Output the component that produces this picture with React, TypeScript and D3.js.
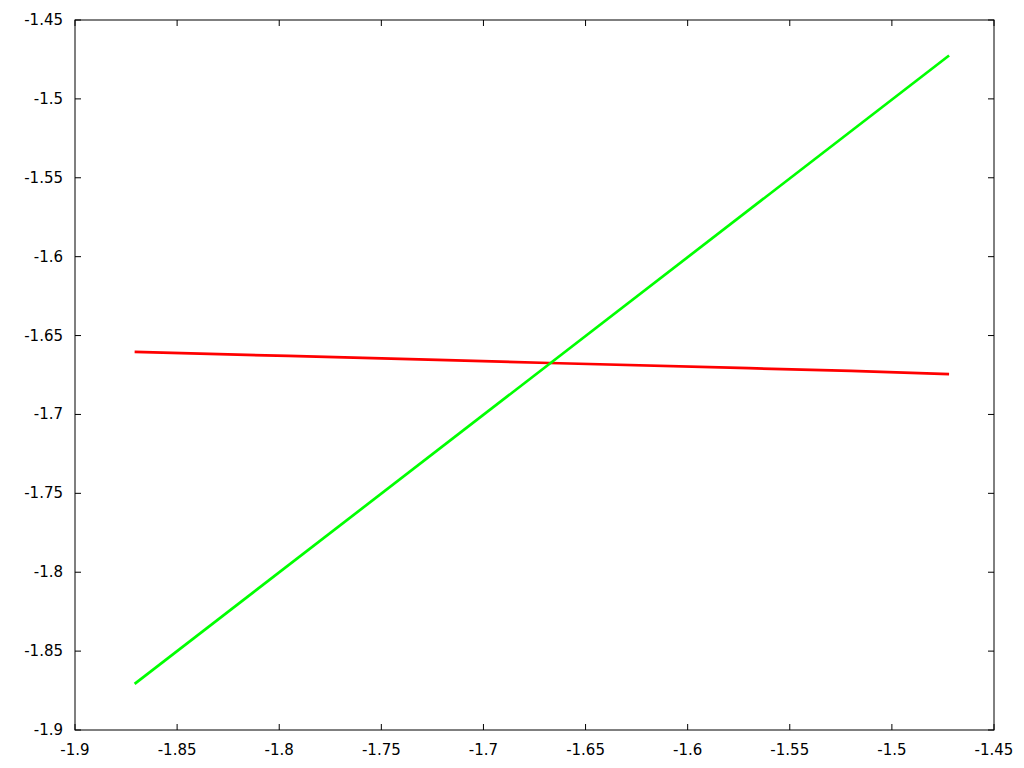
import React from 'react';
import * as d3 from 'd3';

// tick values
const xTicks = [-1.9, -1.85, -1.8, -1.75, -1.7, -1.65, -1.6, -1.55, -1.5, -1.45];
const yTicks = [-1.45, -1.5, -1.55, -1.6, -1.65, -1.7, -1.75, -1.8, -1.85, -1.9];

// series
const greenX = [-1.8708, -1.4720];
const greenY = [-1.8708, -1.4725];
const redX = [-1.8708, -1.7955, -1.7225, -1.6675, -1.5700, -1.5200, -1.4720];
const redY = [-1.6604, -1.6629, -1.6654, -1.6674, -1.6707, -1.6724, -1.6744];

const W = 1024;
const H = 768;
const margin = { top: 20, right: 30, bottom: 38, left: 75 };

const App = () => {
  const innerW = 994 - margin.left;
  const innerH = 730 - margin.top;

  const x = d3.scaleLinear().domain([-1.9, -1.45]).range([0, innerW]);
  const y = d3.scaleLinear().domain([-1.9, -1.45]).range([innerH, 0]);

  const line = d3.line<[number, number]>()
    .x(d => x(d[0]))
    .y(d => y(d[1]));

  const green = greenX.map((v, i) => [v, greenY[i]] as [number, number]);
  const red = redX.map((v, i) => [v, redY[i]] as [number, number]);

  const fmt = (v: number) => String(+v.toFixed(2));
  const tickLen = 6;

  return (
    <svg width={W} height={H} style={{ position: 'absolute', left: 0, top: 0, background: '#fff' }}
      fontFamily="DejaVu Sans" fontSize={15}>
      <g transform={`translate(${margin.left},${margin.top})`}>
        {/* x ticks, bottom and mirrored top */}
        {xTicks.map(t => (
          <g key={'x' + t}>
            <line x1={x(t)} x2={x(t)} y1={innerH} y2={innerH - tickLen} stroke="#000" />
            <line x1={x(t)} x2={x(t)} y1={0} y2={tickLen} stroke="#000" />
            <text x={x(t)} y={innerH + 20} textAnchor="middle" dominantBaseline="central">{fmt(t)}</text>
          </g>
        ))}
        {/* y ticks, left and mirrored right */}
        {yTicks.map(t => (
          <g key={'y' + t}>
            <line x1={0} x2={tickLen} y1={y(t)} y2={y(t)} stroke="#000" />
            <line x1={innerW} x2={innerW - tickLen} y1={y(t)} y2={y(t)} stroke="#000" />
            <text x={-12} y={y(t)} textAnchor="end" dominantBaseline="central">{fmt(t)}</text>
          </g>
        ))}
        <rect x={0} y={0} width={innerW} height={innerH} fill="none" stroke="#000" />

        <path d={line(red) || ''} fill="none" stroke="#ff0000" strokeWidth={2.7} />
        <path d={line(green) || ''} fill="none" stroke="#00ff00" strokeWidth={2.7} />
      </g>
    </svg>
  );
};

export default App;
